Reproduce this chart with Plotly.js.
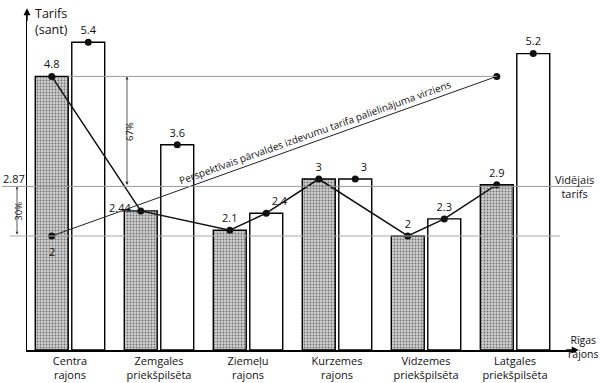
<!DOCTYPE html>
<html>
<head>
<meta charset="utf-8">
<script src="https://cdn.plot.ly/plotly-3.0.1.min.js"></script>
<style>html,body{margin:0;padding:0;background:#fff;}#chart{width:600px;height:383px;}</style>
</head>
<body>
<div id="chart"></div>
<script>
// ---- data ----
const categories = ['Centra<br>rajons', 'Zemgales<br>priekšpilsēta', 'Ziemeļu<br>rajons', 'Kurzemes<br>rajons', 'Vidzemes<br>priekšpilsēta', 'Latgales<br>priekšpilsēta'];
const currentTariff = [4.8, 2.44, 2.1, 3, 2, 2.9];     // grey bars
const futureTariff  = [5.4, 3.6, 2.4, 3, 2.3, 5.2];    // white bars
const currentLabels = ['4.8', '2.44', '2.1', '3', '2', '2.9'];
const futureLabels  = ['5.4', '3.6', '2.4', '3', '2.3', '5.2'];
// polyline through the points: [category index, series ('g' grey / 'w' white)]
const lineCatIdx = [0, 1, 2, 2, 3, 4, 4, 5];
const lineSeries = ['g', 'g', 'g', 'w', 'g', 'g', 'w', 'g'];
const averageTariff = 2.87;
const perspStartValue = 2;      // Centra
const perspEndValue = 4.8;      // Latgales
const perspStartIdx = 0, perspEndIdx = 5;
const pct67 = '67%', pct30 = '30%';

// ---- layout constants ----
const OFF = 0.205, BW = 0.37;
const XR = [-0.483, 5.685], YR = [0, 5.965];
const ML = 27, MR = 24, MT = 10, MB = 33, W = 600, H = 383;
const pw = W - ML - MR, ph = H - MT - MB;
const pxX = pw / (XR[1] - XR[0]), pxY = ph / (YR[1] - YR[0]);
const FONT = 'Open Sans, Noto Sans, sans-serif';

const idx = categories.map((c, i) => i);
const gx = idx.map(i => i - OFF), wx = idx.map(i => i + OFF);
const lineX = lineCatIdx.map((c, k) => lineSeries[k] === 'g' ? c - OFF : c + OFF);
const lineY = lineCatIdx.map((c, k) => lineSeries[k] === 'g' ? currentTariff[c] : futureTariff[c]);
// the 2.44 label is placed separately (left of its dot)
const gText = currentLabels.map((t, i) => i === 1 ? '' : t);

const traces = [
  {type: 'bar', x: gx, y: currentTariff, width: BW, hoverinfo: 'skip',
   marker: {color: '#c4c4c4', line: {color: '#000', width: 1.4},
            pattern: {shape: '.', bgcolor: '#cfcfcf', fgcolor: '#707070', size: 3, solidity: 0.3}}},
  {type: 'bar', x: wx, y: futureTariff, width: BW, hoverinfo: 'skip',
   marker: {color: '#fff', line: {color: '#000', width: 1.4}}},
  {type: 'scatter', mode: 'lines', x: lineX, y: lineY, line: {color: '#111', width: 1.5}, hoverinfo: 'skip'},
  {type: 'scatter', mode: 'lines+markers',
   x: [perspStartIdx - OFF, perspEndIdx - OFF], y: [perspStartValue, perspEndValue],
   line: {color: '#222', width: 1}, marker: {color: '#111', size: 7}, hoverinfo: 'skip'},
  {type: 'scatter', mode: 'markers+text', x: gx, y: currentTariff, text: gText,
   textposition: 'top center',
   textfont: {family: FONT, size: 11, color: '#111'},
   marker: {color: '#111', size: 7}, cliponaxis: false, hoverinfo: 'skip'},
  {type: 'scatter', mode: 'markers+text', x: wx, y: futureTariff, text: futureLabels,
   textposition: ['top center', 'top center', 'top right', 'top right', 'top center', 'top center'],
   textfont: {family: FONT, size: 11, color: '#111'},
   marker: {color: '#111', size: 7}, cliponaxis: false, hoverinfo: 'skip'}
];

// perspective text angle
const dxp = (perspEndIdx - perspStartIdx) * pxX, dyp = (perspEndValue - perspStartValue) * pxY;
const ang = Math.atan2(dyp, dxp);
const tx = 2.79;
const ty = perspStartValue + (tx - (perspStartIdx - OFF)) / (perspEndIdx - perspStartIdx) * (perspEndValue - perspStartValue);
const pxToPaperX = p => (p - ML) / pw;
const pxToPaperY = p => (H - MB - p) / ph;

const annotations = [
  // axis arrows
  {xref: 'paper', yref: 'paper', x: 1.005, y: 0, ax: -14, ay: 0, text: '', showarrow: true, arrowhead: 2, arrowsize: 1, arrowwidth: 1.4, arrowcolor: '#000'},
  {xref: 'paper', yref: 'paper', x: 0, y: 1.005, ax: 0, ay: 14, text: '', showarrow: true, arrowhead: 2, arrowsize: 1, arrowwidth: 1.4, arrowcolor: '#000'},
  // axis titles
  {xref: 'paper', yref: 'paper', x: pxToPaperX(33), y: pxToPaperY(3), xanchor: 'left', yanchor: 'top', align: 'left',
   text: 'Tarifs<br>(sant)', showarrow: false, font: {family: FONT, size: 12.5, color: '#111'}},
  {xref: 'paper', yref: 'paper', x: pxToPaperX(583), y: pxToPaperY(347), xanchor: 'center', yanchor: 'middle',
   text: 'Rīgas<br>rajons', showarrow: false, font: {family: FONT, size: 10.5, color: '#111'}},
  // special value labels
  {xref: 'x', yref: 'y', x: gx[1], y: currentTariff[1], xanchor: 'right', yanchor: 'middle', xshift: -8, yshift: 3,
   text: currentLabels[1], showarrow: false, font: {family: FONT, size: 11, color: '#111'}},
  {xref: 'x', yref: 'y', x: perspStartIdx - OFF, y: perspStartValue, xanchor: 'center', yanchor: 'top', yshift: -6,
   text: String(perspStartValue), showarrow: false, font: {family: FONT, size: 11, color: '#111'}},
  // average label
  {xref: 'paper', yref: 'y', x: pxToPaperX(574), y: averageTariff, xanchor: 'center', yanchor: 'middle',
   text: 'Vidējais<br>tarifs', showarrow: false, font: {family: FONT, size: 11, color: '#111'}},
  {xref: 'paper', yref: 'y', x: pxToPaperX(14), y: averageTariff, yshift: 8, xanchor: 'center', yanchor: 'middle',
   text: String(averageTariff), showarrow: false, font: {family: FONT, size: 11, color: '#111'}},
  // 67% arrow
  {xref: 'paper', yref: 'y', x: pxToPaperX(127), y: perspEndValue, axref: 'pixel', ax: 0, ayref: 'y', ay: averageTariff,
   text: '', showarrow: true, arrowhead: 2, arrowside: 'end+start', arrowsize: 0.8, arrowwidth: 0.8, arrowcolor: '#333'},
  {xref: 'paper', yref: 'y', x: pxToPaperX(121), y: (perspEndValue + averageTariff) / 2, textangle: -90,
   text: pct67, showarrow: false, font: {family: FONT, size: 9.5, color: '#111'}},
  // 30% arrow
  {xref: 'paper', yref: 'y', x: pxToPaperX(17), y: averageTariff, axref: 'pixel', ax: 0, ayref: 'y', ay: perspStartValue,
   text: '', showarrow: true, arrowhead: 2, arrowside: 'end+start', arrowsize: 0.7, arrowwidth: 0.8, arrowcolor: '#333'},
  {xref: 'paper', yref: 'y', x: pxToPaperX(10), y: (averageTariff + perspStartValue) / 2, textangle: -90,
   text: pct30, showarrow: false, font: {family: FONT, size: 9.5, color: '#111'}},
  // perspective text
  {xref: 'x', yref: 'y', x: tx, y: ty, xshift: -9 * Math.sin(ang), yshift: 9 * Math.cos(ang),
   textangle: -ang * 180 / Math.PI, text: 'Perspektīvais pārvaldes izdevumu tarifa palielinājuma virziens',
   showarrow: false, font: {family: FONT, size: 10, color: '#111'}}
];

const shapes = [
  {type: 'line', layer: 'above', xref: 'x', yref: 'y', x0: -OFF + BW / 2, x1: perspEndIdx - OFF, y0: perspEndValue, y1: perspEndValue,
   line: {color: '#999', width: 1}},
  {type: 'line', layer: 'above', xref: 'paper', yref: 'y', x0: pxToPaperX(2), x1: pxToPaperX(592), y0: averageTariff, y1: averageTariff,
   line: {color: '#999', width: 1}},
  {type: 'line', layer: 'above', xref: 'paper', yref: 'y', x0: pxToPaperX(10), x1: pxToPaperX(560), y0: perspStartValue, y1: perspStartValue,
   line: {color: '#aaa', width: 1}}
];

const layout = {
  width: W, height: H, margin: {l: ML, r: MR, t: MT, b: MB},
  paper_bgcolor: '#fff', plot_bgcolor: '#fff', showlegend: false, barmode: 'overlay',
  font: {family: FONT, size: 11, color: '#111'},
  xaxis: {range: XR, tickvals: idx, ticktext: categories, showline: true, linecolor: '#000', linewidth: 1.5,
          showgrid: false, zeroline: false, ticks: '', tickfont: {family: FONT, size: 11, color: '#111'}, fixedrange: true},
  yaxis: {range: YR, showline: true, linecolor: '#000', linewidth: 1.5, showgrid: false, zeroline: false,
          showticklabels: false, ticks: '', fixedrange: true},
  annotations: annotations, shapes: shapes
};

Plotly.newPlot('chart', traces, layout, {displayModeBar: false, staticPlot: true});
</script>
</body>
</html>
